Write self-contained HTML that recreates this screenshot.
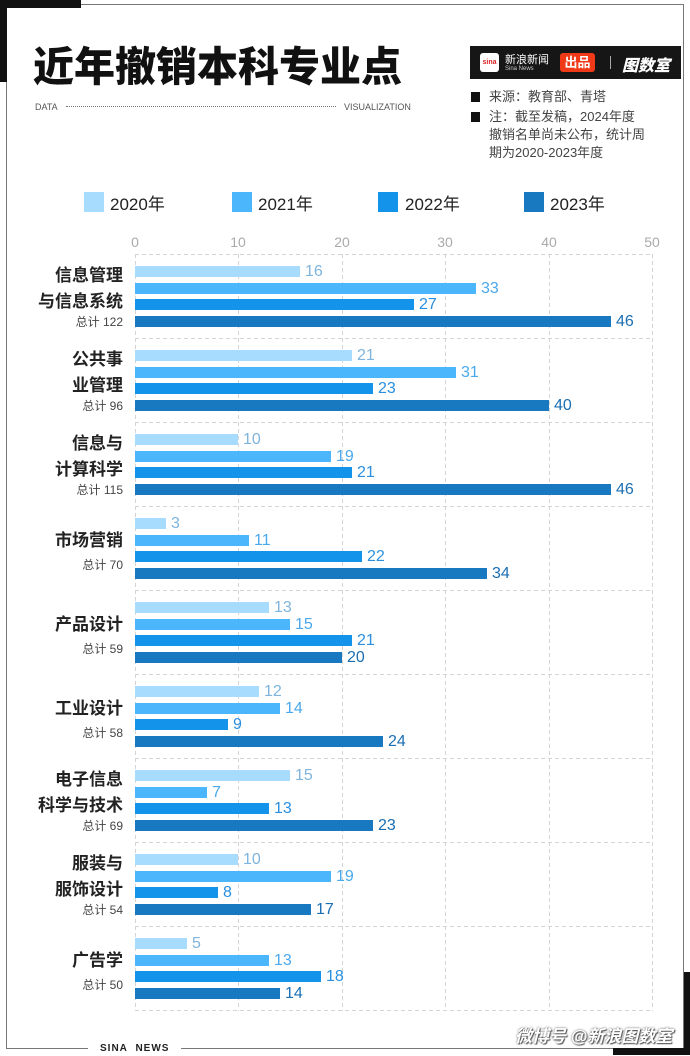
<!DOCTYPE html>
<html><head><meta charset="utf-8"><style>
*{margin:0;padding:0;box-sizing:border-box}
body{width:690px;height:1055px;position:relative;background:#fff;font-family:"Liberation Sans","Noto Sans CJK SC",sans-serif;overflow:hidden}
.a{position:absolute}
.g{position:absolute;left:0;width:690px;height:84px}
.bar{position:absolute;left:135px;height:11px}
.v{position:absolute;font-size:16px;line-height:15px}
.r0{top:12px;background:#a8dcfe}.r1{top:29px;background:#4bb6fc}.r2{top:45px;background:#1394ea}.r3{top:62px;background:#1878c0}
.c0{color:#7fb4dc}.c1{color:#4aa8ec}.c2{color:#2a8fde}.c3{color:#1a6eb2}
.lab{position:absolute;right:567px;text-align:right;font-weight:bold;font-size:17px;line-height:26px;color:#222;white-space:nowrap}
.tot{position:absolute;right:567px;font-size:12px;color:#444;white-space:nowrap}
.leg{position:absolute;top:192px;width:20px;height:20px}
.lt{position:absolute;top:190px;font-size:17px;color:#222;white-space:nowrap}
.tick{position:absolute;top:234px;font-size:14px;color:#aaa;width:40px;text-align:center}
.nt{position:absolute;left:489px;font-size:13px;color:#444;white-space:nowrap;line-height:18px}
</style></head><body>
<div class="a" style="left:6px;top:4px;width:678px;height:1045px;border:1px solid #777"></div>
<div class="a" style="left:0;top:0;width:81px;height:8px;background:#111"></div>
<div class="a" style="left:0;top:0;width:7px;height:82px;background:#111"></div>
<div class="a" style="left:684px;top:972px;width:6px;height:83px;background:#111"></div>
<div class="a" style="left:613px;top:1048px;width:77px;height:7px;background:#111"></div>
<div class="a" style="left:88px;top:1044px;width:93px;height:12px;background:#fff"></div>
<div class="a" style="left:100px;top:1043px;font-size:10px;font-weight:bold;letter-spacing:1px;color:#222">SINA&nbsp; NEWS</div>

<div class="a" style="left:33px;top:42px;font-size:41px;line-height:50px;font-weight:900;color:#111;white-space:nowrap">近年撤销本科专业点</div>
<div class="a" style="left:35px;top:102px;font-size:9px;color:#555">DATA</div>
<div class="a" style="left:66px;top:106px;width:270px;border-top:1px dotted #777"></div>
<div class="a" style="left:344px;top:102px;font-size:9px;color:#555">VISUALIZATION</div>

<div class="a" style="left:470px;top:46px;width:211px;height:33px;background:#161616"></div>
<div class="a" style="left:480px;top:53px;width:19px;height:19px;background:#fff;border-radius:3px;color:#d22;font-size:7px;font-weight:bold;text-align:center;line-height:19px">sina</div>
<div class="a" style="left:505px;top:51px;font-size:11px;color:#fff;white-space:nowrap">新浪新闻</div>
<div class="a" style="left:505px;top:66px;font-size:6px;color:#ccc;white-space:nowrap">Sina News</div>
<div class="a" style="left:560px;top:53px;width:35px;height:19px;background:#f03a17;border-radius:3px;color:#fff;font-size:13px;font-weight:bold;text-align:center;line-height:19px">出品</div>
<div class="a" style="left:610px;top:56px;width:1px;height:13px;background:#aaa"></div>
<div class="a" style="left:622px;top:52px;font-size:16px;font-weight:900;color:#fff;font-style:italic;white-space:nowrap">图数室</div>

<div class="a" style="left:471px;top:92px;width:9px;height:10px;background:#111"></div>
<div class="nt" style="top:88px">来源：教育部、青塔</div>
<div class="a" style="left:471px;top:112px;width:9px;height:10px;background:#111"></div>
<div class="nt" style="top:108px">注：截至发稿，2024年度<br>撤销名单尚未公布，统计周<br>期为2020-2023年度</div>

<div class="leg" style="left:84px;background:#a8dcfe"></div><div class="lt" style="left:110px">2020年</div>
<div class="leg" style="left:232px;background:#4bb6fc"></div><div class="lt" style="left:258px">2021年</div>
<div class="leg" style="left:378px;background:#1394ea"></div><div class="lt" style="left:405px">2022年</div>
<div class="leg" style="left:524px;background:#1878c0"></div><div class="lt" style="left:550px">2023年</div>

<div class="tick" style="left:115px">0</div><div class="tick" style="left:218px">10</div><div class="tick" style="left:322px">20</div><div class="tick" style="left:425px">30</div><div class="tick" style="left:529px">40</div><div class="tick" style="left:632px">50</div>

<svg class="a" style="left:0;top:0" width="690" height="1055">
<g stroke="#d4d4d4" stroke-width="1" stroke-dasharray="4,3" fill="none">
<path d="M135.5 254V1011M238.5 254V1011M342.5 254V1011M445.5 254V1011M549.5 254V1011M652.5 254V1011"/>
<path d="M135 254.5H652M135 338.5H652M135 422.5H652M135 506.5H652M135 590.5H652M135 674.5H652M135 758.5H652M135 842.5H652M135 926.5H652M135 1010.5H652"/>
</g></svg>

<div class="g" style="top:254px">
<div class="lab" style="top:9px">信息管理<br>与信息系统</div><div class="tot" style="top:59px">总计 122</div>
<div class="bar r0" style="width:165px"></div><div class="v c0" style="left:305px;top:10px">16</div>
<div class="bar r1" style="width:341px"></div><div class="v c1" style="left:481px;top:27px">33</div>
<div class="bar r2" style="width:279px"></div><div class="v c2" style="left:419px;top:43px">27</div>
<div class="bar r3" style="width:476px"></div><div class="v c3" style="left:616px;top:60px">46</div>
</div>
<div class="g" style="top:338px">
<div class="lab" style="top:9px">公共事<br>业管理</div><div class="tot" style="top:59px">总计 96</div>
<div class="bar r0" style="width:217px"></div><div class="v c0" style="left:357px;top:10px">21</div>
<div class="bar r1" style="width:321px"></div><div class="v c1" style="left:461px;top:27px">31</div>
<div class="bar r2" style="width:238px"></div><div class="v c2" style="left:378px;top:43px">23</div>
<div class="bar r3" style="width:414px"></div><div class="v c3" style="left:554px;top:60px">40</div>
</div>
<div class="g" style="top:422px">
<div class="lab" style="top:9px">信息与<br>计算科学</div><div class="tot" style="top:59px">总计 115</div>
<div class="bar r0" style="width:103px"></div><div class="v c0" style="left:243px;top:10px">10</div>
<div class="bar r1" style="width:196px"></div><div class="v c1" style="left:336px;top:27px">19</div>
<div class="bar r2" style="width:217px"></div><div class="v c2" style="left:357px;top:43px">21</div>
<div class="bar r3" style="width:476px"></div><div class="v c3" style="left:616px;top:60px">46</div>
</div>
<div class="g" style="top:506px">
<div class="lab" style="top:22px">市场营销</div><div class="tot" style="top:50px">总计 70</div>
<div class="bar r0" style="width:31px"></div><div class="v c0" style="left:171px;top:10px">3</div>
<div class="bar r1" style="width:114px"></div><div class="v c1" style="left:254px;top:27px">11</div>
<div class="bar r2" style="width:227px"></div><div class="v c2" style="left:367px;top:43px">22</div>
<div class="bar r3" style="width:352px"></div><div class="v c3" style="left:492px;top:60px">34</div>
</div>
<div class="g" style="top:590px">
<div class="lab" style="top:22px">产品设计</div><div class="tot" style="top:50px">总计 59</div>
<div class="bar r0" style="width:134px"></div><div class="v c0" style="left:274px;top:10px">13</div>
<div class="bar r1" style="width:155px"></div><div class="v c1" style="left:295px;top:27px">15</div>
<div class="bar r2" style="width:217px"></div><div class="v c2" style="left:357px;top:43px">21</div>
<div class="bar r3" style="width:207px"></div><div class="v c3" style="left:347px;top:60px">20</div>
</div>
<div class="g" style="top:674px">
<div class="lab" style="top:22px">工业设计</div><div class="tot" style="top:50px">总计 58</div>
<div class="bar r0" style="width:124px"></div><div class="v c0" style="left:264px;top:10px">12</div>
<div class="bar r1" style="width:145px"></div><div class="v c1" style="left:285px;top:27px">14</div>
<div class="bar r2" style="width:93px"></div><div class="v c2" style="left:233px;top:43px">9</div>
<div class="bar r3" style="width:248px"></div><div class="v c3" style="left:388px;top:60px">24</div>
</div>
<div class="g" style="top:758px">
<div class="lab" style="top:9px">电子信息<br>科学与技术</div><div class="tot" style="top:59px">总计 69</div>
<div class="bar r0" style="width:155px"></div><div class="v c0" style="left:295px;top:10px">15</div>
<div class="bar r1" style="width:72px"></div><div class="v c1" style="left:212px;top:27px">7</div>
<div class="bar r2" style="width:134px"></div><div class="v c2" style="left:274px;top:43px">13</div>
<div class="bar r3" style="width:238px"></div><div class="v c3" style="left:378px;top:60px">23</div>
</div>
<div class="g" style="top:842px">
<div class="lab" style="top:9px">服装与<br>服饰设计</div><div class="tot" style="top:59px">总计 54</div>
<div class="bar r0" style="width:103px"></div><div class="v c0" style="left:243px;top:10px">10</div>
<div class="bar r1" style="width:196px"></div><div class="v c1" style="left:336px;top:27px">19</div>
<div class="bar r2" style="width:83px"></div><div class="v c2" style="left:223px;top:43px">8</div>
<div class="bar r3" style="width:176px"></div><div class="v c3" style="left:316px;top:60px">17</div>
</div>
<div class="g" style="top:926px">
<div class="lab" style="top:22px">广告学</div><div class="tot" style="top:50px">总计 50</div>
<div class="bar r0" style="width:52px"></div><div class="v c0" style="left:192px;top:10px">5</div>
<div class="bar r1" style="width:134px"></div><div class="v c1" style="left:274px;top:27px">13</div>
<div class="bar r2" style="width:186px"></div><div class="v c2" style="left:326px;top:43px">18</div>
<div class="bar r3" style="width:145px"></div><div class="v c3" style="left:285px;top:60px">14</div>
</div>

<div class="a" style="left:515px;top:1022px;font-size:17px;color:#fff;font-weight:bold;text-shadow:0 0 2px #555,1px 1px 1px #555;font-style:italic;white-space:nowrap">微博号 @新浪图数室</div>
</body></html>
